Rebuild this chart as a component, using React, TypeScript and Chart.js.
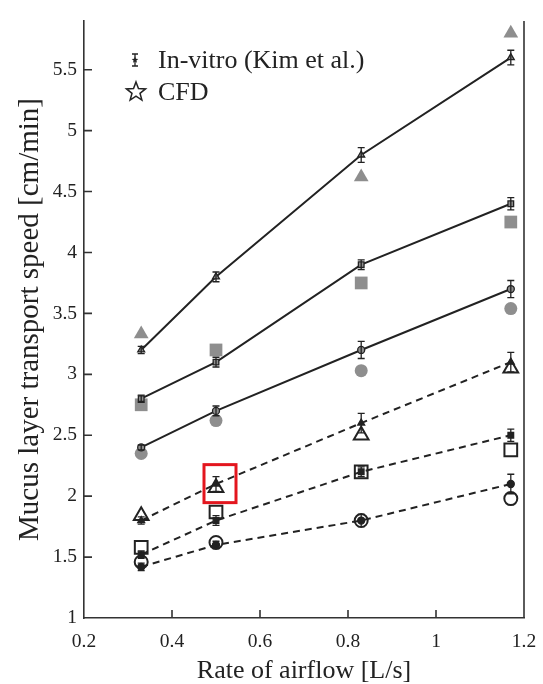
import { useEffect, useRef } from 'react';
import { Chart, registerables } from 'chart.js';

Chart.register(...registerables);

// ---- data ----
const airflow = [0.33, 0.5, 0.83, 1.17];
const xTicks = [0.2, 0.4, 0.6, 0.8, 1, 1.2];
const yTicks = [1, 1.5, 2, 2.5, 3, 3.5, 4, 4.5, 5, 5.5];

// In-vitro (Kim et al.) means and error half-widths
const vitroTri = [3.2, 3.8, 4.8, 5.6];
const vitroTriErr = [0.03, 0.04, 0.06, 0.06];
const vitroSq = [2.8, 3.1, 3.9, 4.4];
const vitroSqErr = [0.03, 0.04, 0.04, 0.05];
const vitroCirc = [2.4, 2.7, 3.2, 3.7];
const vitroCircErr = [0.02, 0.04, 0.07, 0.07];
const vitroTriDash = [1.8, 2.1, 2.6, 3.1];
const vitroTriDashErr = [0.03, 0.06, 0.08, 0.08];
const vitroSqDash = [1.52, 1.8, 2.2, 2.5];
const vitroSqDashErr = [0.03, 0.04, 0.04, 0.05];
const vitroCircDash = [1.42, 1.6, 1.8, 2.1];
const vitroCircDashErr = [0.03, 0.03, 0.05, 0.08];

// CFD results
const cfdTri: (number | null)[] = [3.33, null, 4.62, 5.8];
const cfdSq = [2.75, 3.2, 3.75, 4.25];
const cfdCirc = [2.35, 2.62, 3.03, 3.54];
const cfdTriOpen = [1.84, 2.07, 2.5, 3.05];
const cfdSqOpen = [1.58, 1.87, 2.2, 2.38];
const cfdCircOpen = [1.46, 1.62, 1.8, 1.98];

const legendLabels = ['In-vitro (Kim et al.)', 'CFD'];
const xTitle = 'Rate of airflow [L/s]';
const yTitle = 'Mucus layer transport speed [cm/min]';
const highlightIndex = 1; // CFD open triangle at 0.5 L/s

const FONT = '"Liberation Serif", "DejaVu Serif", serif';
const INK = '#222';
const GRAY = '#8e8e8e';

type Series = { values: (number | null)[]; err?: number[]; style: string; dashed?: boolean };

const vitroSeries: Series[] = [
  { values: vitroTri, err: vitroTriErr, style: 'triangle', dashed: false },
  { values: vitroSq, err: vitroSqErr, style: 'rect', dashed: false },
  { values: vitroCirc, err: vitroCircErr, style: 'circle', dashed: false },
  { values: vitroTriDash, err: vitroTriDashErr, style: 'triangle', dashed: true },
  { values: vitroSqDash, err: vitroSqDashErr, style: 'rect', dashed: true },
  { values: vitroCircDash, err: vitroCircDashErr, style: 'circle', dashed: true },
];

const cfdSeries: Series[] = [
  { values: cfdTri, style: 'triangle', dashed: false },
  { values: cfdSq, style: 'rect', dashed: false },
  { values: cfdCirc, style: 'circle', dashed: false },
  { values: cfdTriOpen, style: 'triangle', dashed: true },
  { values: cfdSqOpen, style: 'rect', dashed: true },
  { values: cfdCircOpen, style: 'circle', dashed: true },
];

const toPoints = (vals: (number | null)[]) =>
  airflow.map((x, i) => ({ x, y: vals[i] })).filter((p) => p.y !== null) as { x: number; y: number }[];

function starPath(ctx: CanvasRenderingContext2D, cx: number, cy: number, ro: number, ri: number) {
  ctx.beginPath();
  for (let i = 0; i < 10; i++) {
    const r = i % 2 === 0 ? ro : ri;
    const a = -Math.PI / 2 + (i * Math.PI) / 5;
    const px = cx + r * Math.cos(a);
    const py = cy + r * Math.sin(a);
    if (i === 0) ctx.moveTo(px, py);
    else ctx.lineTo(px, py);
  }
  ctx.closePath();
}

const decorPlugin = {
  id: 'decor',
  afterDatasetsDraw(chart: any) {
    const { ctx } = chart;
    const xs = chart.scales.x;
    const ys = chart.scales.y;
    ctx.save();
    // error bars
    ctx.strokeStyle = INK;
    ctx.lineWidth = 1.3;
    vitroSeries.forEach((s) => {
      s.values.forEach((v, i) => {
        if (v === null || !s.err) return;
        const px = xs.getPixelForValue(airflow[i]);
        const pt = ys.getPixelForValue(v + s.err[i]);
        const pb = ys.getPixelForValue(v - s.err[i]);
        ctx.beginPath();
        ctx.moveTo(px, pt);
        ctx.lineTo(px, pb);
        ctx.moveTo(px - 3.5, pt);
        ctx.lineTo(px + 3.5, pt);
        ctx.moveTo(px - 3.5, pb);
        ctx.lineTo(px + 3.5, pb);
        ctx.stroke();
      });
    });
    // highlight box
    const hx = xs.getPixelForValue(airflow[highlightIndex]);
    const hy = ys.getPixelForValue(cfdTriOpen[highlightIndex]);
    ctx.strokeStyle = '#e3161e';
    ctx.lineWidth = 3;
    ctx.strokeRect(hx - 12, hy - 23, 32, 38);
    ctx.restore();
  },
  afterDraw(chart: any) {
    const { ctx, chartArea } = chart;
    const xs = chart.scales.x;
    const ys = chart.scales.y;
    ctx.save();
    ctx.strokeStyle = '#333';
    ctx.lineWidth = 1.6;
    // right border
    ctx.beginPath();
    ctx.moveTo(chartArea.right, chartArea.top);
    ctx.lineTo(chartArea.right, chartArea.bottom);
    ctx.stroke();
    // inward ticks
    ctx.beginPath();
    xTicks.forEach((t) => {
      const px = xs.getPixelForValue(t);
      if (Math.abs(px - chartArea.left) < 2 || Math.abs(px - chartArea.right) < 2) return;
      ctx.moveTo(px, chartArea.bottom);
      ctx.lineTo(px, chartArea.bottom - 8);
    });
    yTicks.forEach((t) => {
      const py = ys.getPixelForValue(t);
      if (Math.abs(py - chartArea.bottom) < 2) return;
      ctx.moveTo(chartArea.left, py);
      ctx.lineTo(chartArea.left + 8, py);
    });
    ctx.stroke();

    // legend
    const lx = chartArea.left + 51;
    const ly1 = chartArea.top + 39;
    const ly2 = chartArea.top + 71;
    ctx.strokeStyle = INK;
    ctx.lineWidth = 1.3;
    ctx.beginPath();
    ctx.moveTo(lx, ly1 - 6);
    ctx.lineTo(lx, ly1 + 6);
    ctx.moveTo(lx - 3, ly1 - 6);
    ctx.lineTo(lx + 3, ly1 - 6);
    ctx.moveTo(lx - 3, ly1 + 6);
    ctx.lineTo(lx + 3, ly1 + 6);
    ctx.stroke();
    ctx.fillStyle = INK;
    starPath(ctx, lx, ly1, 3.5, 1.5);
    ctx.fill();
    ctx.lineWidth = 1.5;
    ctx.fillStyle = '#fff';
    starPath(ctx, lx + 1, ly2, 10, 4.2);
    ctx.fill();
    ctx.stroke();
    ctx.fillStyle = INK;
    ctx.font = `26px ${FONT}`;
    ctx.textBaseline = 'middle';
    ctx.textAlign = 'left';
    ctx.fillText(legendLabels[0], lx + 23, ly1 + 1);
    ctx.fillText(legendLabels[1], lx + 23, ly2 + 1);
    ctx.restore();
  },
};

export default function App() {
  const ref = useRef<HTMLCanvasElement | null>(null);

  useEffect(() => {
    if (!ref.current) return;

    const vitroSets = vitroSeries.map((s) => ({
      type: 'line' as const,
      data: toPoints(s.values),
      showLine: true,
      borderColor: INK,
      borderWidth: 2,
      borderDash: s.dashed ? [7, 5] : [],
      pointStyle: s.style,
      pointRadius: s.style === 'circle' ? 3.5 : 4,
      pointBackgroundColor: s.dashed ? INK : GRAY,
      pointBorderColor: INK,
      pointBorderWidth: 1.3,
      fill: false,
    }));

    const cfdSets = cfdSeries.map((s) => ({
      type: 'scatter' as const,
      data: toPoints(s.values),
      showLine: false,
      pointStyle: s.style,
      pointRadius: s.style === 'circle' ? 6.5 : s.style === 'rect' ? 9 : 8.5,
      pointBackgroundColor: s.dashed ? '#fff' : GRAY,
      pointBorderColor: s.dashed ? INK : GRAY,
      pointBorderWidth: s.dashed ? 2 : 0,
    }));

    const chart = new Chart(ref.current, {
      type: 'scatter',
      data: { datasets: [...vitroSets, ...cfdSets] as any },
      plugins: [decorPlugin],
      options: {
        animation: false,
        responsive: false,
        maintainAspectRatio: false,
        devicePixelRatio: 1,
        layout: { padding: { top: 21, right: 19, bottom: 0, left: 0 } },
        plugins: {
          legend: { display: false },
          tooltip: { enabled: false },
        },
        scales: {
          x: {
            type: 'linear',
            min: 0.2,
            max: 1.2,
            afterFit: (s: any) => {
              s.height = 66;
              s.paddingLeft = 0;
              s.paddingRight = 0;
            },
            afterBuildTicks: (s: any) => {
              s.ticks = xTicks.map((v) => ({ value: v }));
            },
            grid: { display: false, drawTicks: false },
            border: { display: true, color: '#333', width: 1.6 },
            ticks: {
              padding: 12,
              color: INK,
              font: { family: FONT, size: 19.5 },
              callback: (v: any) => String(v),
              maxRotation: 0,
            },
            title: {
              display: true,
              text: xTitle,
              color: INK,
              font: { family: FONT, size: 26 },
              padding: { top: 0, bottom: -3 },
            },
          },
          y: {
            type: 'linear',
            min: 1,
            max: 5.9,
            afterFit: (s: any) => {
              s.width = 84;
              s.paddingTop = 0;
              s.paddingBottom = 0;
            },
            afterBuildTicks: (s: any) => {
              s.ticks = yTicks.map((v) => ({ value: v }));
            },
            grid: { display: false, drawTicks: false },
            border: { display: true, color: '#333', width: 1.6 },
            ticks: {
              padding: 7,
              color: INK,
              font: { family: FONT, size: 19.5 },
              callback: (v: any) => String(v),
            },
            title: {
              display: true,
              text: yTitle,
              color: INK,
              font: { family: FONT, size: 29 },
              padding: { top: 13, bottom: 0 },
            },
          },
        },
      } as any,
    });

    return () => chart.destroy();
  }, []);

  return (
    <div style={{ position: 'absolute', left: 0, top: 0, width: 543, height: 684, background: '#fff' }}>
      <canvas ref={ref} width={543} height={684} style={{ width: 543, height: 684, display: 'block' }} />
    </div>
  );
}
